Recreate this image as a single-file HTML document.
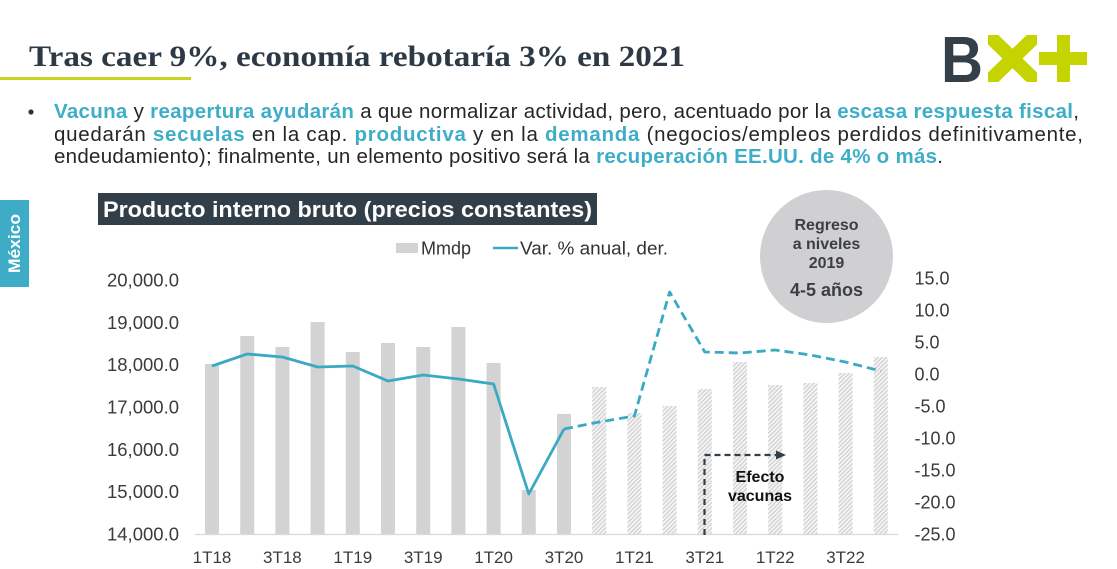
<!DOCTYPE html>
<html>
<head>
<meta charset="utf-8">
<style>
  html,body{margin:0;padding:0;background:#fff;}
  body{width:1117px;height:569px;overflow:hidden;}
  svg{display:block;}
  .sans{font-family:"Liberation Sans",Arial,sans-serif;}
  .serif{font-family:"Liberation Serif","Times New Roman",serif;}
</style>
</head>
<body>
<svg width="1117" height="569" viewBox="0 0 1117 569" xmlns="http://www.w3.org/2000/svg">
  <defs>
    <pattern id="hatch" patternUnits="userSpaceOnUse" width="3" height="3" patternTransform="rotate(45)">
      <rect x="0" y="0" width="3" height="3" fill="#f4f4f4"/>
      <rect x="0" y="0" width="1" height="3" fill="#c9c9c9"/>
    </pattern>
    <clipPath id="xclip"><rect x="988" y="35" width="49" height="47"/></clipPath>
  </defs>
  <rect width="1117" height="569" fill="#ffffff"/>

  <!-- Title -->
  <text class="serif" x="29" y="66" font-size="30" font-weight="bold" fill="#2d3a45" textLength="656" lengthAdjust="spacingAndGlyphs">Tras caer 9%, economía rebotaría 3% en 2021</text>
  <rect x="0" y="77" width="191" height="3" fill="#c6d31f"/>

  <!-- Logo -->
  <text class="sans" x="941" y="82" font-size="65" font-weight="bold" fill="#343f48" textLength="42" lengthAdjust="spacingAndGlyphs">B</text>
  <g clip-path="url(#xclip)" stroke="#c5d400" stroke-width="14">
    <line x1="980" y1="27" x2="1045" y2="90"/>
    <line x1="1045" y1="27" x2="980" y2="90"/>
  </g>
  <rect x="1057" y="35" width="13" height="47" fill="#c5d400"/>
  <rect x="1039" y="52" width="48" height="13" fill="#c5d400"/>

  <!-- Bullet text -->
  <circle cx="31" cy="112" r="2.6" fill="#333"/>
  <g class="sans" font-size="20.5" fill="#262626">
    <text x="54" y="118" textLength="1025" lengthAdjust="spacing"><tspan font-weight="bold" fill="#3eaec8">Vacuna</tspan> y <tspan font-weight="bold" fill="#3eaec8">reapertura ayudarán</tspan> a que normalizar actividad, pero, acentuado por la <tspan font-weight="bold" fill="#3eaec8">escasa respuesta fiscal</tspan>,</text>
    <text x="54" y="141" textLength="1029" lengthAdjust="spacing">quedarán <tspan font-weight="bold" fill="#3eaec8">secuelas</tspan> en la cap. <tspan font-weight="bold" fill="#3eaec8">productiva</tspan> y en la <tspan font-weight="bold" fill="#3eaec8">demanda</tspan> (negocios/empleos perdidos definitivamente,</text>
    <text x="54" y="163" textLength="889" lengthAdjust="spacing">endeudamiento); finalmente, un elemento positivo será la <tspan font-weight="bold" fill="#3eaec8">recuperación EE.UU. de 4% o más</tspan>.</text>
  </g>

  <!-- México side tab -->
  <rect x="0" y="200" width="29" height="87" fill="#3eacc6"/>
  <text class="sans" x="0" y="0" font-size="17" font-weight="bold" fill="#ffffff" text-anchor="middle" textLength="59" lengthAdjust="spacingAndGlyphs" transform="translate(20,243.5) rotate(-90)">México</text>

  <!-- Chart title box -->
  <rect x="98" y="193" width="499" height="32" fill="#333f48"/>
  <text class="sans" x="103" y="217" font-size="22" font-weight="bold" fill="#ffffff" textLength="489" lengthAdjust="spacingAndGlyphs">Producto interno bruto (precios constantes)</text>

  <!-- Legend -->
  <rect x="396" y="243" width="22" height="10" fill="#d3d3d3"/>
  <text class="sans" x="421" y="254.5" font-size="18" fill="#333">Mmdp</text>
  <line x1="493" y1="248" x2="518" y2="248" stroke="#3aa9c2" stroke-width="2.5"/>
  <text class="sans" x="520" y="254.5" font-size="18" fill="#333" textLength="148" lengthAdjust="spacingAndGlyphs">Var. % anual, der.</text>

  <!-- Bubble -->
  <circle cx="826.5" cy="256.5" r="66.5" fill="#d0d0d2"/>
  <g class="sans" font-weight="bold" fill="#3a3f44" text-anchor="middle">
    <text x="826.5" y="230" font-size="16">Regreso</text>
    <text x="826.5" y="249" font-size="16">a niveles</text>
    <text x="826.5" y="268" font-size="16">2019</text>
    <text x="826.5" y="296" font-size="18">4-5 años</text>
  </g>

  <!-- Left axis labels -->
  <g class="sans" font-size="18.5" fill="#3b3b3b" text-anchor="end">
    <text x="179" y="286.5">20,000.0</text>
    <text x="179" y="328.8">19,000.0</text>
    <text x="179" y="371.2">18,000.0</text>
    <text x="179" y="413.5">17,000.0</text>
    <text x="179" y="455.8">16,000.0</text>
    <text x="179" y="498.2">15,000.0</text>
    <text x="179" y="540.5">14,000.0</text>
  </g>

  <!-- Right axis labels -->
  <g class="sans" font-size="18" fill="#3b3b3b">
    <text x="914.5" y="284.5">15.0</text>
    <text x="914.5" y="316.5">10.0</text>
    <text x="914.5" y="348.5">5.0</text>
    <text x="914.5" y="380.5">0.0</text>
    <text x="914.5" y="412.5">-5.0</text>
    <text x="914.5" y="444.5">-10.0</text>
    <text x="914.5" y="476.5">-15.0</text>
    <text x="914.5" y="508.5">-20.0</text>
    <text x="914.5" y="540.5">-25.0</text>
  </g>

  <!-- Bars (solid) -->
  <g fill="#d3d3d3">
    <rect x="205" y="364" width="14" height="170"/>
    <rect x="240.2" y="336" width="14" height="198"/>
    <rect x="275.4" y="347" width="14" height="187"/>
    <rect x="310.6" y="322" width="14" height="212"/>
    <rect x="345.8" y="352" width="14" height="182"/>
    <rect x="381" y="343" width="14" height="191"/>
    <rect x="416.2" y="347" width="14" height="187"/>
    <rect x="451.4" y="327" width="14" height="207"/>
    <rect x="486.6" y="363" width="14" height="171"/>
    <rect x="521.8" y="490" width="14" height="44"/>
    <rect x="557" y="414" width="14" height="120"/>
  </g>
  <!-- Bars (hatched forecast) -->
  <g fill="url(#hatch)">
    <rect x="592.2" y="387" width="14" height="147"/>
    <rect x="627.4" y="413" width="14" height="121"/>
    <rect x="662.6" y="406" width="14" height="128"/>
    <rect x="697.8" y="389" width="14" height="145"/>
    <rect x="733" y="362" width="14" height="172"/>
    <rect x="768.2" y="385" width="14" height="149"/>
    <rect x="803.4" y="383" width="14" height="151"/>
    <rect x="838.6" y="373" width="14" height="161"/>
    <rect x="873.8" y="357" width="14" height="177"/>
  </g>

  <!-- Axis baseline -->
  <line x1="195" y1="534.5" x2="898" y2="534.5" stroke="#d9d9d9" stroke-width="1.2"/>

  <!-- Line series -->
  <polyline fill="none" stroke="#3aa9c2" stroke-width="2.8" stroke-linejoin="round"
    points="212,366 247.2,354 282.4,357 317.6,367 352.8,366 388,381 423.2,375 458.4,379 493.6,384 528.8,494 564,429"/>
  <polyline fill="none" stroke="#3aa9c2" stroke-width="2.8" stroke-dasharray="9 5" stroke-linejoin="round"
    points="564,429 599.2,422 634.4,416 669.6,292 704.8,352 740,353 775.2,350 810.4,355 845.6,362 880.8,371"/>

  <!-- Efecto vacunas arrow -->
  <path d="M704.5 535 V455 H778" fill="none" stroke="#333f48" stroke-width="2.2" stroke-dasharray="6 4"/>
  <polygon points="776,450.5 786,455 776,459.5" fill="#333f48"/>
  <g class="sans" font-size="16" font-weight="bold" fill="#111" text-anchor="middle">
    <text x="760" y="482">Efecto</text>
    <text x="760" y="501">vacunas</text>
  </g>

  <!-- X axis labels -->
  <g class="sans" font-size="17" fill="#3b3b3b" text-anchor="middle">
    <text x="212" y="563">1T18</text>
    <text x="282.4" y="563">3T18</text>
    <text x="352.8" y="563">1T19</text>
    <text x="423.2" y="563">3T19</text>
    <text x="493.6" y="563">1T20</text>
    <text x="564" y="563">3T20</text>
    <text x="634.4" y="563">1T21</text>
    <text x="704.8" y="563">3T21</text>
    <text x="775.2" y="563">1T22</text>
    <text x="845.6" y="563">3T22</text>
  </g>
</svg>
</body>
</html>
